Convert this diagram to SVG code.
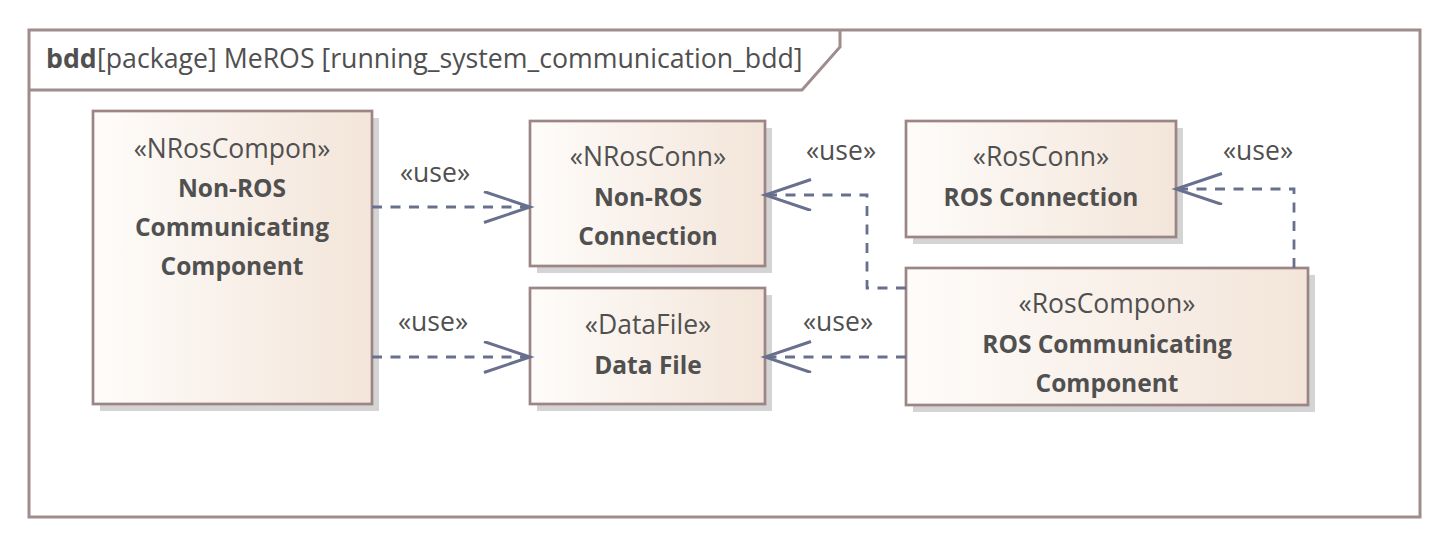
<svg xmlns="http://www.w3.org/2000/svg" width="1449" height="546" viewBox="0 0 1449 546">
<style>
.frame{fill:none;stroke:#a08c8c;stroke-width:3}
.box{fill:url(#g);stroke:#9b8585;stroke-width:2.7}
.shadow{fill:#d4d4d4}
.st{font-family:"Open Sans","DejaVu Sans",sans-serif;font-size:26.5px;fill:#505050;text-anchor:middle}
.nm{font-family:"Open Sans","DejaVu Sans",sans-serif;font-size:24.5px;font-weight:bold;fill:#505050;text-anchor:middle}
.lbl{font-family:"Open Sans","DejaVu Sans",sans-serif;font-size:26.5px;fill:#505050;text-anchor:middle}
.dep{fill:none;stroke:#68708e;stroke-width:2.8;stroke-dasharray:10,8.5}
.title{font-family:"Open Sans","DejaVu Sans",sans-serif;font-size:26.7px;fill:#505050}
</style>
<defs>
<linearGradient id="g" x1="0" y1="0" x2="1" y2="0">
<stop offset="0" stop-color="#fefcfa"/>
<stop offset="1" stop-color="#f3e5d9"/>
</linearGradient>
<marker id="arr" markerUnits="userSpaceOnUse" markerWidth="60" markerHeight="40" refX="48" refY="16" orient="auto" viewBox="0 0 60 40">
<path d="M2,0.5 L48,16 L2,31.5" fill="none" stroke="#68708e" stroke-width="3"/>
</marker>
</defs>
<rect x="0" y="0" width="1449" height="546" fill="#ffffff"/>
<g id="frame">
<rect class="frame" x="29" y="30" width="1391" height="487"/>
<path class="frame" d="M29,90 H802 L840,47 V30"/>
<text class="title" x="46" y="68" font-weight="bold">bdd</text>
<text class="title" x="97" y="68">[package] MeROS [running_system_communication_bdd]</text>
</g>
<g id="node-nros-compon">
<rect class="shadow" x="100" y="118" width="279" height="293"/>
<rect class="box" x="93" y="111" width="279" height="293"/>
<text class="st" x="232" y="158">«NRosCompon»</text>
<text class="nm" x="232" y="197">Non-ROS</text>
<text class="nm" x="232" y="236">Communicating</text>
<text class="nm" x="232" y="275">Component</text>
</g>
<g id="node-nros-conn">
<rect class="shadow" x="537" y="128" width="235" height="145"/>
<rect class="box" x="530" y="121" width="235" height="145"/>
<text class="st" x="648" y="166">«NRosConn»</text>
<text class="nm" x="648" y="206">Non-ROS</text>
<text class="nm" x="648" y="245">Connection</text>
</g>
<g id="node-datafile">
<rect class="shadow" x="537" y="295" width="235" height="116"/>
<rect class="box" x="530" y="288" width="235" height="116"/>
<text class="st" x="648" y="334">«DataFile»</text>
<text class="nm" x="648" y="374">Data File</text>
</g>
<g id="node-ros-conn">
<rect class="shadow" x="913" y="128" width="270" height="116"/>
<rect class="box" x="906" y="121" width="270" height="116"/>
<text class="st" x="1041" y="166">«RosConn»</text>
<text class="nm" x="1041" y="206">ROS Connection</text>
</g>
<g id="node-ros-compon">
<rect class="shadow" x="913" y="275" width="402" height="137"/>
<rect class="box" x="906" y="268" width="402" height="137"/>
<text class="st" x="1107" y="313">«RosCompon»</text>
<text class="nm" x="1107" y="353">ROS Communicating</text>
<text class="nm" x="1107" y="392">Component</text>
</g>
<g id="connectors">
<path class="dep" d="M372,207 H530" marker-end="url(#arr)"/>
<path class="dep" d="M372,357 H530" marker-end="url(#arr)"/>
<path class="dep" d="M906,288 H867 V195 H765" marker-end="url(#arr)"/>
<path class="dep" d="M906,357 H765" marker-end="url(#arr)"/>
<path class="dep" d="M1294,268 V189 H1176" marker-end="url(#arr)"/>
<text class="lbl" x="435" y="182">«use»</text>
<text class="lbl" x="433" y="331">«use»</text>
<text class="lbl" x="841" y="160">«use»</text>
<text class="lbl" x="838" y="331">«use»</text>
<text class="lbl" x="1258" y="160">«use»</text>
</g>
</svg>
